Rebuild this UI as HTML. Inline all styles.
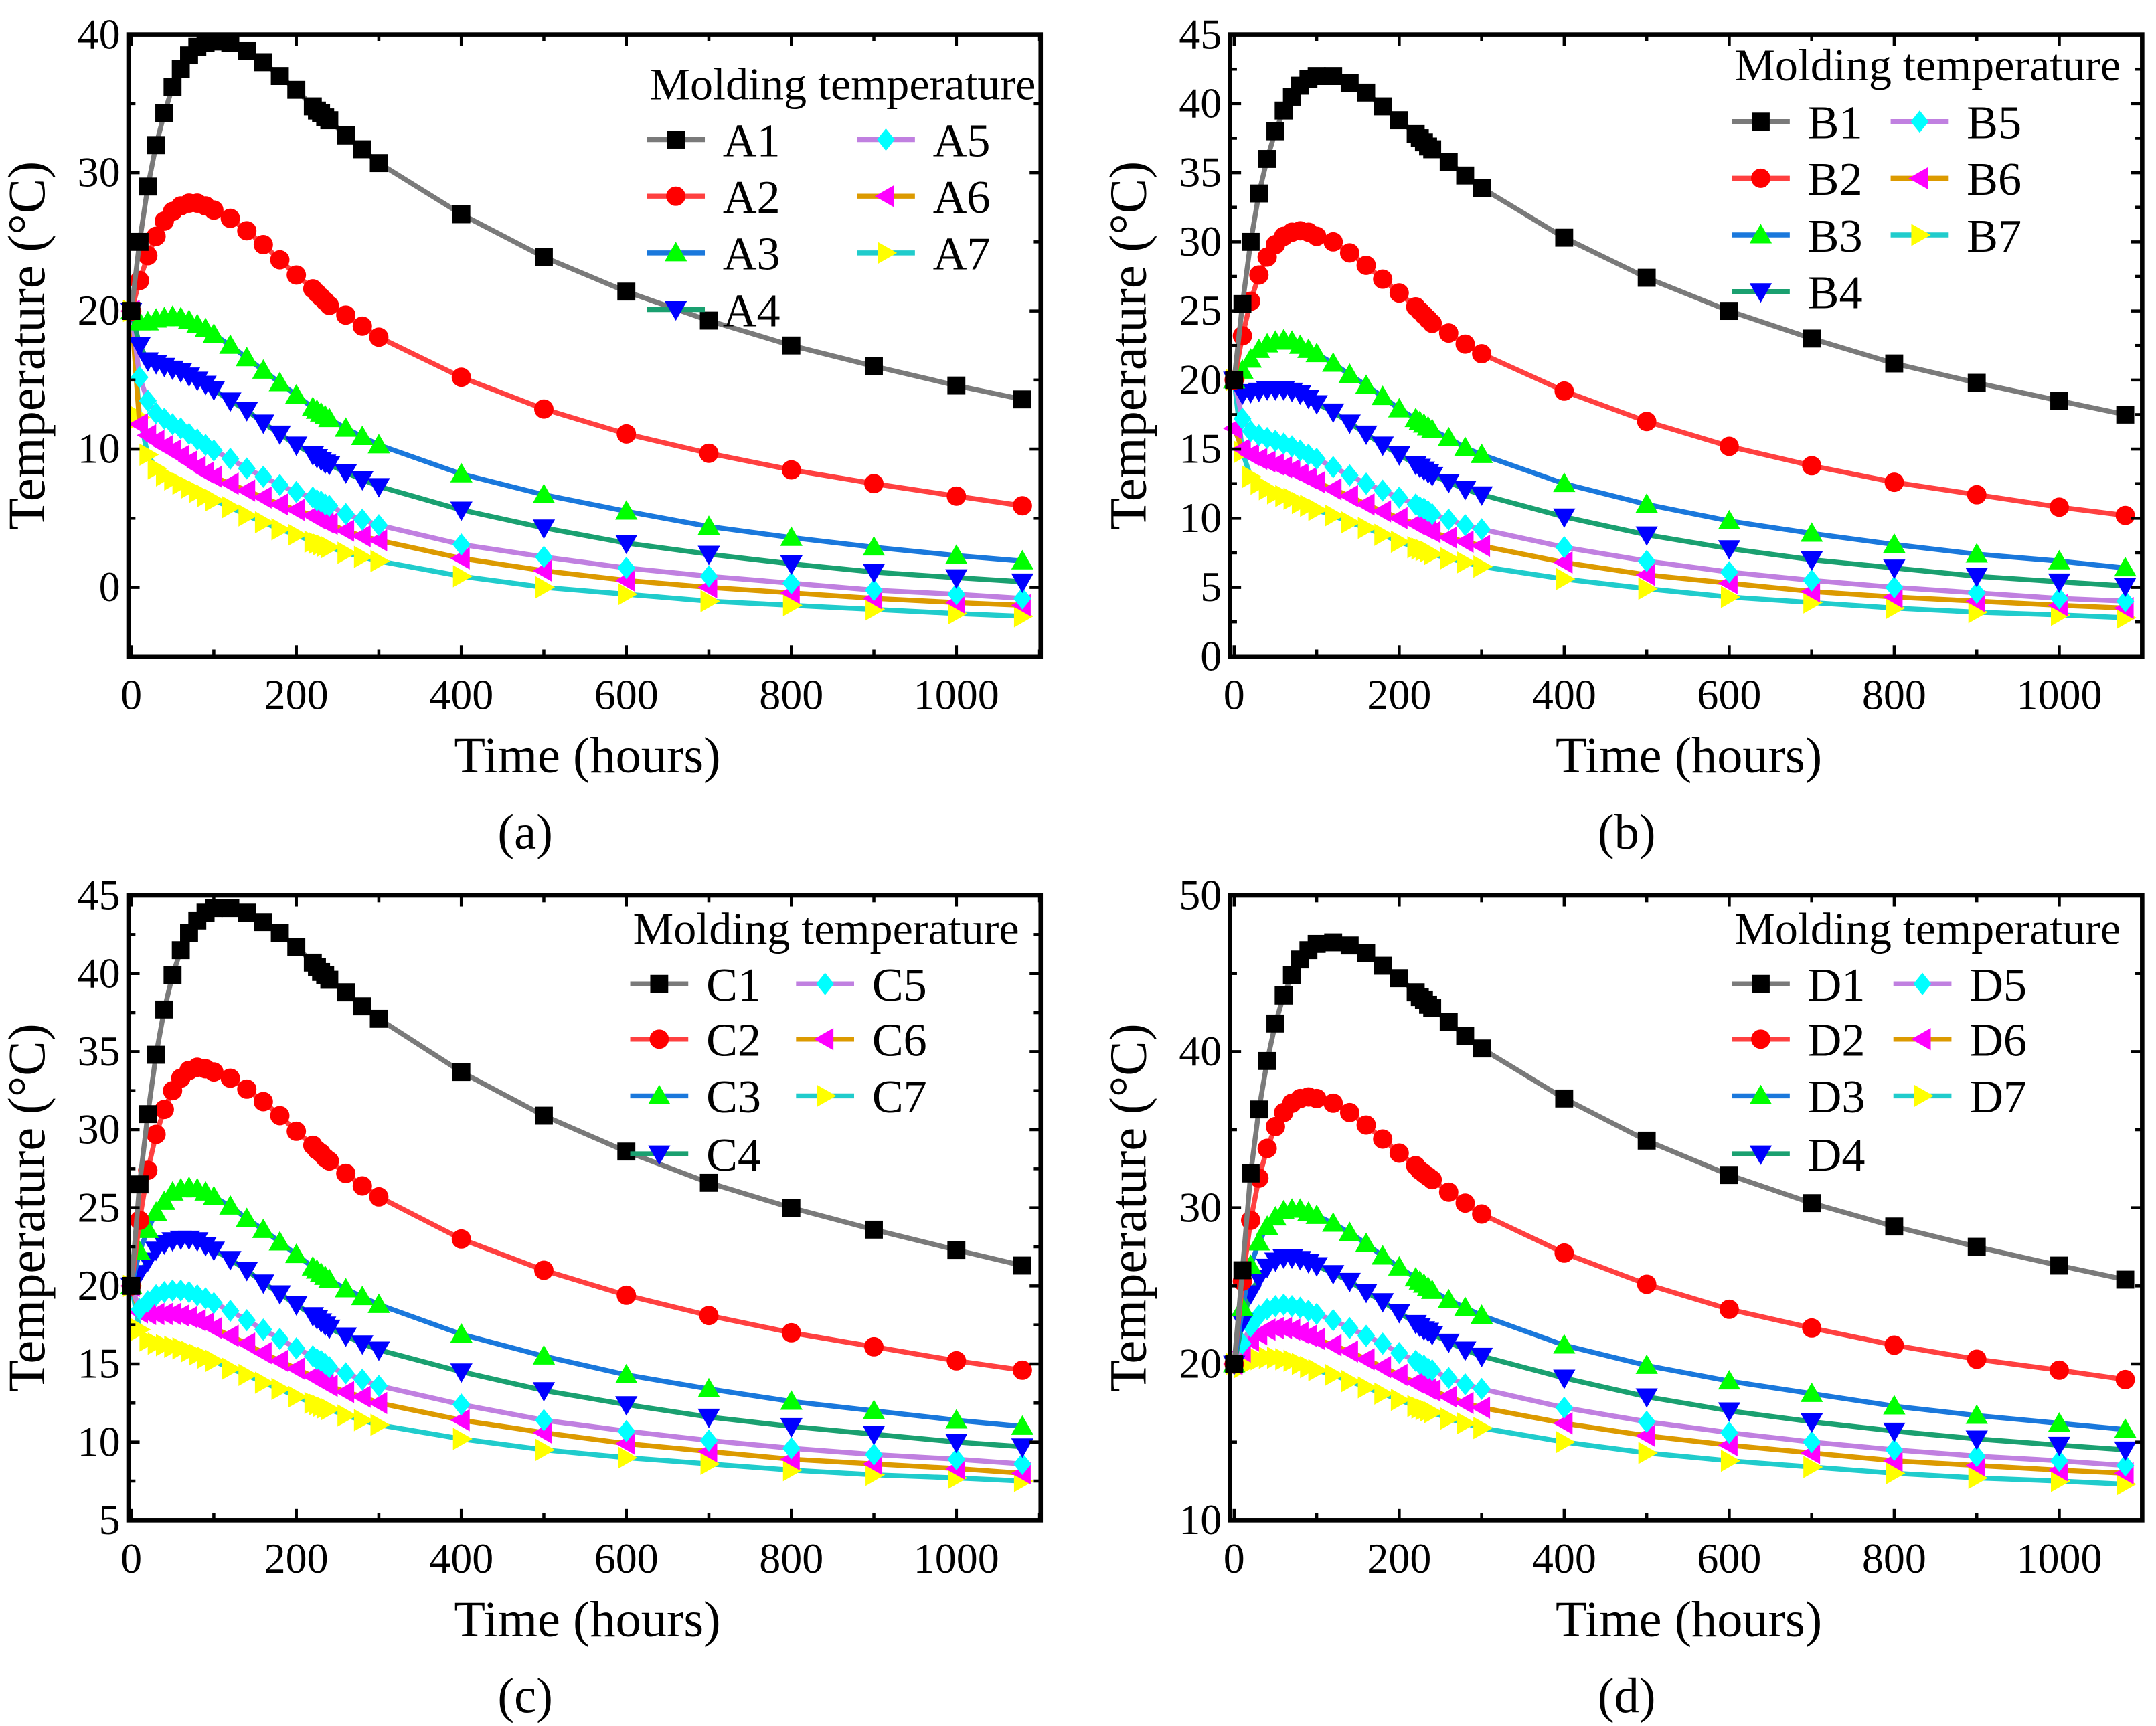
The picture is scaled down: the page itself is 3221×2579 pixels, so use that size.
<!DOCTYPE html>
<html><head><meta charset="utf-8">
<style>
html,body{margin:0;padding:0;background:#fff;}
svg{display:block;font-family:"Liberation Serif",serif;}
</style></head>
<body>
<svg id="fig" width="3221" height="2579" viewBox="0 0 1560 1249" preserveAspectRatio="none" xmlns="http://www.w3.org/2000/svg"></svg>
<script>
const times = [0,10,20,30,40,50,60,70,80,90,100,120,140,160,180,200,220,225,230,235,240,260,280,300,400,500,600,700,800,900,1000,1080];
const xTicks = [0,200,400,600,800,1000];

const seriesA1=[20,25,29,32,34.3,36.2,37.5,38.5,39.1,39.4,39.5,39.4,38.8,38,37,36,34.8,34.5,34.3,34,33.8,32.7,31.7,30.7,27,23.9,21.4,19.3,17.5,16,14.6,13.6];
const seriesA2=[20,22.2,24,25.4,26.5,27.2,27.6,27.8,27.8,27.6,27.3,26.7,25.8,24.8,23.7,22.6,21.6,21.3,21,20.7,20.4,19.7,18.9,18.1,15.2,12.9,11.1,9.7,8.5,7.5,6.6,5.9];
const seriesA3=[20,19.2,19.2,19.4,19.5,19.6,19.5,19.3,19,18.7,18.3,17.5,16.6,15.7,14.8,13.9,13,12.8,12.6,12.4,12.2,11.5,10.9,10.3,8.2,6.7,5.5,4.4,3.6,2.9,2.3,1.9];
const seriesA4=[20,17.5,16.4,16.2,16,15.8,15.6,15.3,15,14.7,14.3,13.5,12.8,11.9,11.1,10.3,9.6,9.4,9.2,9.0,8.9,8.3,7.8,7.3,5.6,4.3,3.2,2.4,1.7,1.1,0.7,0.4];
const seriesA5=[20,15.2,13.5,12.6,12.2,11.8,11.5,11.1,10.7,10.3,9.9,9.3,8.6,8,7.4,6.9,6.5,6.3,6.2,6,5.9,5.3,4.9,4.5,3.1,2.2,1.4,0.8,0.3,-0.2,-0.5,-0.8];
const seriesA6=[20,11.8,11,10.6,10.2,9.9,9.5,9.1,8.7,8.3,8.0,7.5,7.0,6.5,6.0,5.6,5.2,5.0,4.9,4.7,4.6,4.1,3.7,3.4,2.1,1.2,0.5,0,-0.4,-0.8,-1.1,-1.3];
const seriesA7=[20,12.3,9.6,8.6,8.1,7.8,7.5,7.2,6.9,6.6,6.3,5.8,5.2,4.7,4.2,3.8,3.3,3.2,3.1,3,2.9,2.5,2.2,1.9,0.8,0,-0.5,-1,-1.3,-1.6,-1.9,-2.1];

const seriesB1=[20,25.5,30,33.5,36,38,39.5,40.5,41.3,41.8,42,42,41.5,40.8,39.8,38.8,37.8,37.5,37.2,36.9,36.7,35.8,34.8,33.9,30.3,27.4,25,23,21.2,19.8,18.5,17.5];
const seriesB2=[20,23.2,25.7,27.6,28.9,29.8,30.4,30.7,30.8,30.7,30.4,30,29.2,28.3,27.3,26.3,25.3,25,24.7,24.4,24.1,23.4,22.6,21.9,19.2,17,15.2,13.8,12.6,11.7,10.8,10.2];
const seriesB3=[20,20.7,21.5,22.2,22.6,22.8,22.9,22.8,22.5,22.2,21.9,21.2,20.4,19.6,18.8,17.9,17.2,17,16.8,16.6,16.4,15.8,15.1,14.6,12.5,11,9.8,8.9,8.1,7.4,6.9,6.4];
const seriesB4=[20,19,19.1,19.2,19.3,19.3,19.3,19.2,19,18.7,18.3,17.7,16.9,16.1,15.3,14.6,13.9,13.7,13.5,13.3,13.1,12.6,12.1,11.7,10.1,8.8,7.8,7,6.4,5.8,5.4,5.1];
const seriesB5=[20,17.2,16.3,16,15.8,15.6,15.4,15.2,14.9,14.6,14.3,13.7,13.1,12.5,12,11.5,11,10.8,10.7,10.5,10.3,9.9,9.5,9.2,7.9,6.9,6.1,5.5,5,4.6,4.2,4];
const seriesB6=[16.5,15,14.6,14.3,14.1,13.9,13.7,13.5,13.2,12.9,12.6,12.1,11.6,11,10.5,10,9.6,9.5,9.3,9.2,9,8.6,8.3,8,6.8,5.9,5.3,4.7,4.3,4,3.7,3.5];
const seriesB7=[20,14.8,13,12.5,12.1,11.8,11.6,11.4,11.1,10.9,10.6,10.2,9.7,9.3,8.8,8.3,7.9,7.8,7.7,7.6,7.4,7.1,6.8,6.5,5.6,4.9,4.3,3.9,3.5,3.2,3,2.8];

const seriesC1=[20,26.5,31,34.8,37.7,39.9,41.5,42.6,43.4,43.9,44.2,44.2,43.9,43.3,42.6,41.7,40.7,40.4,40.1,39.9,39.6,38.8,37.9,37.1,33.7,30.9,28.6,26.6,25,23.6,22.3,21.3];
const seriesC2=[20,24.2,27.4,29.7,31.3,32.5,33.3,33.8,34,33.9,33.7,33.3,32.6,31.8,30.9,29.9,29,28.7,28.5,28.2,28,27.2,26.4,25.7,23,21,19.4,18.1,17,16.1,15.2,14.6];
const seriesC3=[20,22.2,23.6,24.7,25.4,26,26.2,26.3,26.2,26,25.7,25.1,24.3,23.6,22.8,22,21.2,21,20.8,20.6,20.4,19.8,19.3,18.8,16.9,15.5,14.3,13.4,12.6,12,11.4,11];
const seriesC4=[20,20.8,21.6,22.3,22.7,22.9,23,23,22.9,22.6,22.3,21.7,21,20.2,19.5,18.8,18.1,17.9,17.7,17.5,17.3,16.8,16.3,15.9,14.5,13.3,12.4,11.6,11,10.5,10,9.7];
const seriesC5=[20,18.5,19,19.4,19.6,19.7,19.7,19.6,19.4,19.2,18.9,18.4,17.8,17.2,16.6,16,15.5,15.3,15.2,15,14.8,14.4,14,13.6,12.4,11.4,10.7,10.1,9.6,9.2,8.9,8.6];
const seriesC6=[20,18.3,18.2,18.2,18.2,18.2,18.1,18,17.8,17.6,17.3,16.8,16.3,15.7,15.2,14.7,14.2,14.1,13.9,13.8,13.6,13.2,12.9,12.5,11.4,10.6,9.9,9.4,8.9,8.6,8.3,8];
const seriesC7=[20,17.2,16.5,16.3,16.2,16.1,16,15.8,15.6,15.4,15.2,14.7,14.3,13.8,13.4,12.9,12.5,12.4,12.3,12.2,12.1,11.7,11.4,11.1,10.2,9.5,9,8.6,8.2,7.9,7.7,7.5];

const seriesD1=[20,26,32.2,36.3,39.4,41.8,43.6,44.9,45.9,46.5,46.9,47,46.8,46.3,45.5,44.7,43.8,43.5,43.3,43,42.8,41.9,41,40.2,37,34.3,32.1,30.3,28.8,27.5,26.3,25.4];
const seriesD2=[20,25.3,29.2,31.9,33.8,35.2,36.1,36.7,37,37.1,37,36.7,36.1,35.3,34.4,33.5,32.7,32.4,32.2,32,31.8,31,30.3,29.6,27.1,25.1,23.5,22.3,21.2,20.3,19.6,19];
const seriesD3=[20,23.6,26.3,27.8,28.8,29.4,29.8,29.9,29.9,29.7,29.5,29,28.4,27.7,26.9,26.2,25.5,25.3,25.1,24.9,24.7,24.1,23.6,23.1,21.2,19.9,18.9,18.1,17.3,16.7,16.2,15.8];
const seriesD4=[20,22.7,24.5,25.5,26.2,26.6,26.8,26.8,26.7,26.5,26.3,25.8,25.3,24.6,24,23.3,22.6,22.4,22.2,22.1,21.9,21.4,20.9,20.5,19.1,17.9,17,16.3,15.7,15.2,14.8,14.5];
const seriesD5=[20,21.3,22.4,23.1,23.5,23.7,23.8,23.7,23.6,23.4,23.2,22.8,22.3,21.8,21.3,20.7,20.2,20,19.9,19.7,19.6,19.1,18.7,18.4,17.2,16.3,15.6,15,14.5,14.1,13.8,13.5];
const seriesD6=[20,20.8,21.5,21.9,22.2,22.3,22.3,22.2,22,21.8,21.6,21.2,20.8,20.3,19.8,19.3,18.8,18.7,18.6,18.4,18.3,17.9,17.5,17.2,16.2,15.4,14.8,14.3,13.8,13.5,13.2,13];
const seriesD7=[20,19.8,20.1,20.3,20.4,20.4,20.3,20.2,20,19.8,19.6,19.3,18.9,18.5,18.1,17.7,17.3,17.2,17.1,17,16.9,16.5,16.2,15.9,15,14.3,13.8,13.4,13,12.7,12.5,12.3];

const yTicksA=[0,10,20,30,40];
const yTicksB=[0,5,10,15,20,25,30,35,40,45];
const yTicksC=[5,10,15,20,25,30,35,40,45];
const yTicksD=[10,20,30,40,50];

const NS="http://www.w3.org/2000/svg";
const svg=document.getElementById('fig');
function mk(tag,attrs,parent){const e=document.createElementNS(NS,tag);for(const k in attrs)e.setAttribute(k,attrs[k]);(parent||svg).appendChild(e);return e;}

const lineCols=['#7a7a7a','#ff4040','#1a78dc','#1aa070','#c080e0','#dc9a00','#20cccc'];
const mkCols=['#000000','#ff0000','#00ff00','#0000ff','#00ffff','#ff00ff','#ffff00'];
const mkTypes=['square','circle','up','down','diamond','left','right'];

function marker(g,type,cx,cy,col,s){
  let e;
  if(type==='square'){e=mk('rect',{x:cx-s/2,y:cy-s/2,width:s,height:s,fill:col},g);}
  else if(type==='circle'){e=mk('circle',{cx:cx,cy:cy,r:s/2+0.5,fill:col},g);}
  else{
    const r=s*0.62;let p;
    if(type==='up')p=[[cx,cy-r],[cx+r,cy+r*0.75],[cx-r,cy+r*0.75]];
    else if(type==='down')p=[[cx,cy+r],[cx+r,cy-r*0.75],[cx-r,cy-r*0.75]];
    else if(type==='left')p=[[cx-r,cy],[cx+r*0.75,cy-r],[cx+r*0.75,cy+r]];
    else if(type==='right')p=[[cx+r,cy],[cx-r*0.75,cy-r],[cx-r*0.75,cy+r]];
    else p=[[cx,cy-r],[cx+r*0.8,cy],[cx,cy+r],[cx-r*0.8,cy]];
    e=mk('polygon',{points:p.map(q=>q.join(',')).join(' '),fill:col},g);
  }
  return e;
}

function panel(cfg){
  const {id,left,right,top,bottom,x0px,x1000px,ymin,ymax,yTicks,yMinorStep,series,letter,legX,legTitleY,legRowY,col2X,titleX}=cfg;
  const g=mk('g',{});
  
  
  const sx=v=>x0px+(x1000px-x0px)*v/1000;
  const sy=v=>bottom-(bottom-top)*(v-ymin)/(ymax-ymin);
  const sg=mk('g',{},g);
  
  
  for(let k=6;k>=0;k--){
    const vals=series[k];
    const pts=times.map((t,i)=>sx(t).toFixed(2)+','+sy(vals[i]).toFixed(2)).join(' ');
    const pl=mk('polyline',{points:pts,fill:'none',stroke:lineCols[k],'stroke-width':3.6,'stroke-linejoin':'round'},sg);
    
    
    times.forEach((t,i)=>{
      const m=marker(sg,mkTypes[k],sx(t),sy(vals[i]),mkCols[k],13);
      
      
    });
  }
  const fr=mk('rect',{x:left,y:top,width:right-left,height:bottom-top,fill:'none',stroke:'#000','stroke-width':3.2},g);
  
  
  for(let v=0;v<=1100;v+=100){
    const x=sx(v);if(x>right)break;
    const major=v%200===0;const L=major?8:5;
    mk('line',{x1:x,y1:bottom,x2:x,y2:bottom-L,stroke:'#000','stroke-width':2.2},g);
    mk('line',{x1:x,y1:top,x2:x,y2:top+L,stroke:'#000','stroke-width':2.2},g);
  }
  xTicks.forEach(v=>{
    const t=mk('text',{x:sx(v),y:bottom+38,'font-size':31,'text-anchor':'middle'},g);
    t.textContent=v;
    
    
  });
  for(let v=ymin;v<=ymax+0.001;v+=yMinorStep){
    const y=sy(v);const major=yTicks.some(q=>Math.abs(q-v)<0.01);const L=major?8:5;
    mk('line',{x1:left,y1:y,x2:left+L,y2:y,stroke:'#000','stroke-width':2.2},g);
    mk('line',{x1:right,y1:y,x2:right-L,y2:y,stroke:'#000','stroke-width':2.2},g);
  }
  yTicks.forEach(v=>{
    const t=mk('text',{x:left-6,y:sy(v)+10,'font-size':31,'text-anchor':'end'},g);
    t.textContent=v;
    
    
  });
  const cy=(top+bottom)/2;
  const yt=mk('text',{x:0,y:0,'font-size':38,'text-anchor':'middle',transform:`translate(${left-61},${cy}) rotate(-90)`},g);
  yt.textContent='Temperature (°C)';
  
  
  const xt=mk('text',{x:titleX,y:bottom+84,'font-size':37,'text-anchor':'middle'},g);
  xt.textContent='Time (hours)';
  
  
  const cap=mk('text',{x:titleX-45,y:bottom+139,'font-size':36,'text-anchor':'middle'},g);
  cap.textContent='('+id+')';
  
  
  const lg=mk('g',{},g);
  
  
  const lt=mk('text',{x:legX,y:legTitleY,'font-size':33},lg);
  lt.textContent='Molding temperature';
  
  
  for(let k=0;k<7;k++){
    const col=k<4?0:1;const row=k<4?k:k-4;
    const lx=col===0?legX-2:col2X;const ly=legRowY[row];
    const e=mk('g',{},lg);
    
    
    mk('line',{x1:lx,y1:ly,x2:lx+42,y2:ly,stroke:lineCols[k],'stroke-width':3.6},e);
    marker(e,mkTypes[k],lx+21,ly,mkCols[k],13);
    const tx=mk('text',{x:lx+55,y:ly+12,'font-size':34},e);
    tx.textContent=letter+(k+1);
  }
}

panel({id:'a',letter:'A',left:93,right:753,top:25,bottom:475,x0px:95,x1000px:692,ymin:-5,ymax:40,yTicks:yTicksA,yMinorStep:5,
  series:[seriesA1,seriesA2,seriesA3,seriesA4,seriesA5,seriesA6,seriesA7],legX:470,legTitleY:72,legRowY:[101,142,183,224],col2X:620,titleX:425});
panel({id:'b',letter:'B',left:890,right:1550,top:25,bottom:475,x0px:893,x1000px:1490,ymin:0,ymax:45,yTicks:yTicksB,yMinorStep:2.5,
  series:[seriesB1,seriesB2,seriesB3,seriesB4,seriesB5,seriesB6,seriesB7],legX:1255,legTitleY:58,legRowY:[88,129,170,211],col2X:1368,titleX:1222});
panel({id:'c',letter:'C',left:93,right:753,top:648,bottom:1100,x0px:95,x1000px:692,ymin:5,ymax:45,yTicks:yTicksC,yMinorStep:2.5,
  series:[seriesC1,seriesC2,seriesC3,seriesC4,seriesC5,seriesC6,seriesC7],legX:458,legTitleY:683,legRowY:[712,752,793,835],col2X:576,titleX:425});
panel({id:'d',letter:'D',left:890,right:1550,top:648,bottom:1100,x0px:893,x1000px:1490,ymin:10,ymax:50,yTicks:yTicksD,yMinorStep:5,
  series:[seriesD1,seriesD2,seriesD3,seriesD4,seriesD5,seriesD6,seriesD7],legX:1255,legTitleY:683,legRowY:[712,752,793,835],col2X:1370,titleX:1222});
</script>
</body></html>
